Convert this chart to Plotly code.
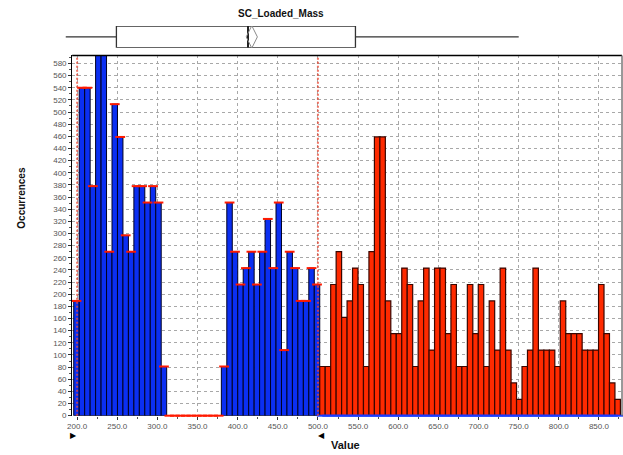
import plotly.graph_objects as go

# ---------------- data ----------------
title_text = "SC_Loaded_Mass"
hist_start = 195.8      # left edge of first bin
bin_width = 6.81        # bin width (value units)
lsl = 200.0             # lower spec limit (red dotted)
usl = 500.0             # upper spec limit (red dotted)

counts_in = [189, 540, 540, 378, 621, 621, 270, 513, 459, 297, 270, 378, 378, 351, 378, 351, 81,
             0, 0, 0, 0, 0, 0, 0, 0, 0, 0,
             81, 351, 270, 216, 243, 270, 216, 270, 324, 243, 351, 108, 270, 243, 189, 189, 243, 216]
counts_out = [81, 81, 216, 270, 162, 189, 243, 216, 81, 270, 459, 459, 189, 135, 135, 243, 216, 81,
              189, 243, 108, 243, 243, 135, 216, 81, 81, 216, 135, 216, 81, 189, 108, 243, 108, 54,
              27, 81, 108, 243, 108, 108, 108, 81, 189, 135, 135, 135, 108, 108, 108, 216, 135, 54, 27]

box_min = 195.8
box_q1 = 272.3
box_median = 470.1
box_q3 = 631.6
box_max = 877.2
box_mean = 475.8

x_ticks = [200, 250, 300, 350, 400, 450, 500, 550, 600, 650, 700, 750, 800, 850]
y_ticks = list(range(0, 600, 20))

# ---------------- layout helpers (pixel -> paper) ----------------
W, H = 623, 455
def px(p):
    return p / W
def py(p):
    return 1 - p / H

n_in = len(counts_in)
centers_in = [hist_start + (i + 0.5) * bin_width for i in range(n_in)]
centers_out = [hist_start + (n_in + i + 0.5) * bin_width for i in range(len(counts_out))]

fig = go.Figure()

fig.add_trace(go.Bar(x=centers_in, y=counts_in, width=bin_width,
                     marker=dict(color="#0b2ff2", line=dict(color="#000020", width=1)),
                     showlegend=False, hoverinfo="x+y"))
fig.add_trace(go.Bar(x=centers_out, y=counts_out, width=bin_width,
                     marker=dict(color="#ff2a00", line=dict(color="#3a0600", width=1.2)),
                     showlegend=False, hoverinfo="x+y"))

# red caps on in-spec bars
fig.add_trace(go.Scatter(x=centers_in, y=counts_in, mode="markers", cliponaxis=False,
                         marker=dict(symbol="line-ew-open", size=7, color="#ff1a00",
                                     line=dict(color="#ff1a00", width=2)),
                         showlegend=False, hoverinfo="skip"))
# blue base under out-of-spec bars
fig.add_trace(go.Scatter(x=centers_out, y=[0] * len(counts_out), mode="markers", cliponaxis=False,
                         marker=dict(symbol="line-ew-open", size=8, color="#1a3cff",
                                     line=dict(color="#1a3cff", width=2)),
                         showlegend=False, hoverinfo="skip"))

# box plot strip at top
fig.add_trace(go.Box(orientation="h", y=[0], q1=[box_q1], median=[box_median], q3=[box_q3],
                     lowerfence=[box_min], upperfence=[box_max], width=1,
                     fillcolor="white", line=dict(color="#333333", width=1.3),
                     whiskerwidth=0, boxpoints=False, xaxis="x2", yaxis="y2",
                     showlegend=False, hoverinfo="skip"))
fig.add_trace(go.Scatter(x=[box_median, box_median], y=[-0.5, 0.5], mode="lines",
                         line=dict(color="#222222", width=2), xaxis="x2", yaxis="y2",
                         showlegend=False, hoverinfo="skip"))
fig.add_trace(go.Scatter(x=[box_mean], y=[0], mode="markers", xaxis="x2", yaxis="y2",
                         marker=dict(symbol="diamond-tall-open", size=16, color="#8a8a8a",
                                     line=dict(color="#8a8a8a", width=1)),
                         showlegend=False, hoverinfo="skip"))

tick_font = dict(family="Liberation Sans, Arial, sans-serif", size=8, color="#555555")
lab_font = "Liberation Sans, Arial, sans-serif"

x_lo = 200 - (72.7 - 67.7) / 0.80923
x_hi = 850 + (622 - 598.7) / 0.80923
y_hi = (420.3 - 56) / 0.614

fig.update_layout(
    width=W, height=H, autosize=False,
    margin=dict(l=0, r=0, t=0, b=0, pad=0),
    paper_bgcolor="white", plot_bgcolor="white",
    showlegend=False,
    xaxis=dict(domain=[px(67.7), px(622)], range=[x_lo, x_hi],
               tickvals=x_ticks, tickformat=".1f", tickfont=tick_font,
               ticks="outside", ticklen=3, tickcolor="#333333",
               minor=dict(dtick=25, tick0=0, ticks="outside", ticklen=2, tickcolor="#555555", showgrid=False),
               showgrid=True, gridcolor="#a8a8a8", griddash="3px,3px", gridwidth=1,
               showline=False, zeroline=False, fixedrange=True),
    yaxis=dict(domain=[py(420.3), py(56)], range=[0, y_hi],
               tickvals=y_ticks, tickfont=tick_font,
               ticks="outside", ticklen=3, tickcolor="#333333",
               minor=dict(dtick=10, tick0=0, ticks="outside", ticklen=2, tickcolor="#555555", showgrid=False),
               showgrid=True, gridcolor="#a8a8a8", griddash="3px,3px", gridwidth=1,
               showline=True, linecolor="black", linewidth=1, zeroline=False, fixedrange=True),
    xaxis2=dict(domain=[px(61), px(518)], range=[box_min, box_max], anchor="y2",
                visible=False, fixedrange=True),
    yaxis2=dict(domain=[py(48.3), py(26.3)], range=[-0.5, 0.5], anchor="x2",
                visible=False, fixedrange=True),
    shapes=[
        dict(type="line", xref="x", yref="y domain", x0=lsl, x1=lsl, y0=0, y1=1,
             line=dict(color="rgba(235,70,50,0.75)", width=2, dash="2px,2px"), layer="above"),
        dict(type="line", xref="x", yref="y domain", x0=usl, x1=usl, y0=0, y1=1,
             line=dict(color="rgba(235,70,50,0.75)", width=2, dash="2px,2px"), layer="above"),
        dict(type="line", xref="x domain", yref="y domain", x0=0, x1=1, y0=1, y1=1,
             line=dict(color="black", width=1.5), layer="above"),
        dict(type="line", xref="x domain", yref="y domain", x0=1, x1=1, y0=0, y1=1,
             line=dict(color="#777777", width=1.5), layer="above"),
    ],
    annotations=[
        dict(text="<b>" + title_text + "</b>", x=px(278), y=py(14), xref="paper", yref="paper",
             xanchor="center", yanchor="middle", showarrow=False,
             font=dict(family=lab_font, size=10, color="#111111")),
        dict(text="<b>Value</b>", x=px(343), y=py(450), xref="paper", yref="paper",
             xanchor="center", yanchor="middle", showarrow=False,
             font=dict(family=lab_font, size=11, color="#111111")),
        dict(text="<b>Occurrences</b>", x=px(17), y=py(200), xref="paper", yref="paper",
             xanchor="center", yanchor="middle", showarrow=False, textangle=-90,
             font=dict(family=lab_font, size=10, color="#111111")),
        dict(text="▶", x=lsl, y=py(440), xref="x", yref="paper", showarrow=False,
             xanchor="right", yanchor="middle", xshift=2,
             font=dict(family="DejaVu Sans", size=8, color="black")),
        dict(text="◀", x=usl, y=py(440), xref="x", yref="paper", showarrow=False,
             xanchor="left", yanchor="middle", xshift=-2,
             font=dict(family="DejaVu Sans", size=8, color="black")),
    ],
)

fig.write_html("out.html", config={"displayModeBar": False})
